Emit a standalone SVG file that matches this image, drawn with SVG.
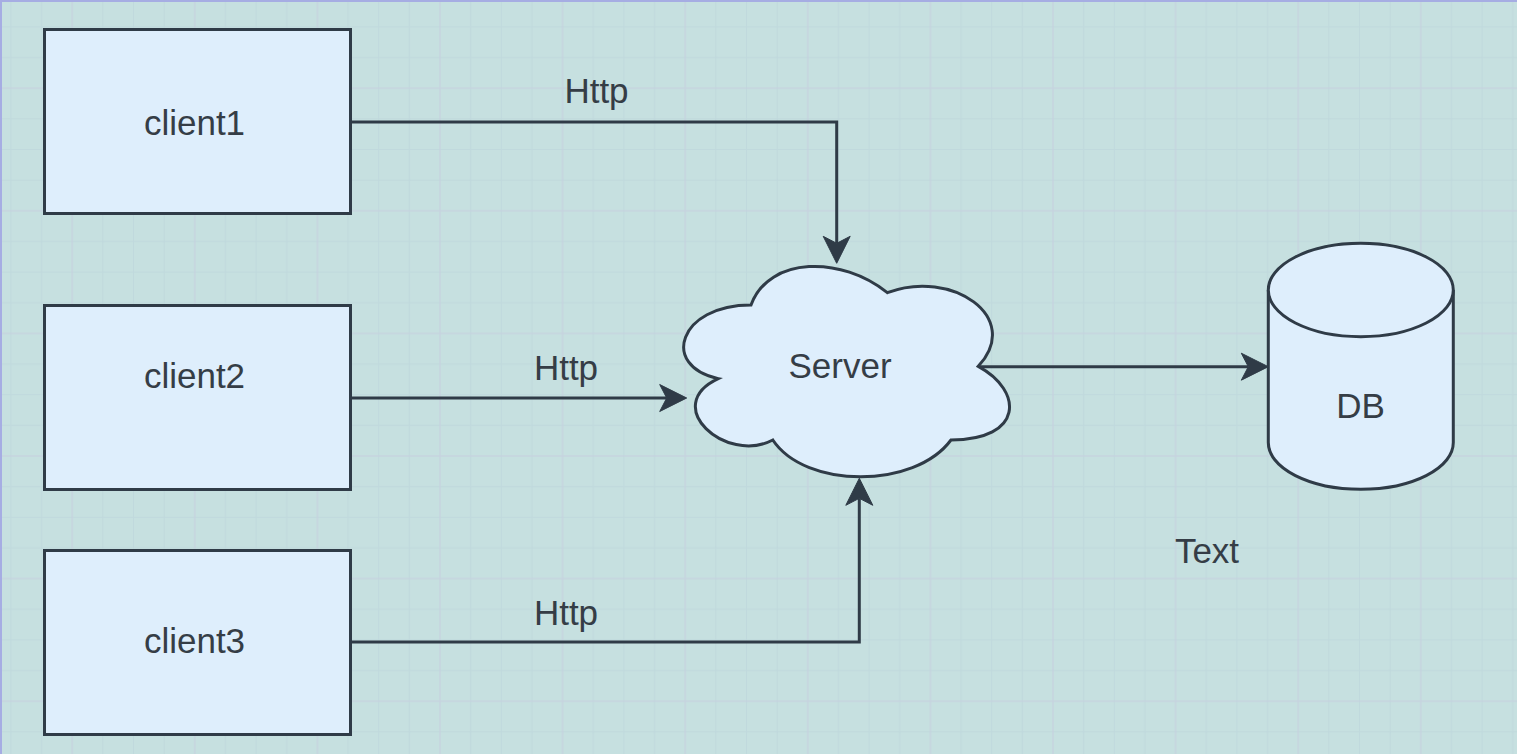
<svg xmlns="http://www.w3.org/2000/svg" width="1517" height="754" viewBox="0 0 1517 754">
  <style>
    .node { fill: #deeefc; stroke: #2f3b47; stroke-width: 3; }
    .edge { fill: none; stroke: #2f3b47; stroke-width: 3; }
    .lbl { font-family: "Liberation Sans", Arial, sans-serif; font-size: 35px; fill: #353d46; text-anchor: middle; }
  </style>
  <defs>
    <pattern id="grid" patternUnits="userSpaceOnUse" x="72.2" y="88.2" width="122.6" height="122.6">
      <rect width="122.6" height="122.6" fill="#c6e0e0"/>
      <g fill="#c0d9dd">
        <rect x="30.15" y="0" width="1" height="122.6"/>
        <rect x="60.8" y="0" width="1" height="122.6"/>
        <rect x="91.45" y="0" width="1" height="122.6"/>
        <rect x="0" y="30.15" width="122.6" height="1"/>
        <rect x="0" y="60.8" width="122.6" height="1"/>
        <rect x="0" y="91.45" width="122.6" height="1"/>
      </g>
      <g fill="#c6d2df">
        <rect x="-0.6" y="0" width="1.2" height="122.6"/>
        <rect x="0" y="-0.6" width="122.6" height="1.2"/>
        <rect x="122" y="0" width="1.2" height="122.6"/>
        <rect x="0" y="122" width="122.6" height="1.2"/>
      </g>
    </pattern>
    <marker id="arrow" markerUnits="userSpaceOnUse" markerWidth="32" markerHeight="32" viewBox="-2 -16 32 32" refX="7" refY="0" orient="auto" overflow="visible">
      <path d="M27,0 L0,-13.5 L7,0 L0,13.5 Z" fill="#2f3b47" stroke="#2f3b47" stroke-width="1" stroke-linejoin="miter"/>
    </marker>
  </defs>

  <rect x="0" y="0" width="1517" height="754" fill="url(#grid)"/>
  <path d="M1,754 V1 H1517" fill="none" stroke="#a6ade3" stroke-width="2"/>

  <g id="connectors">
    <path class="edge" d="M351,122 H836.7 V243.3" marker-end="url(#arrow)"/>
    <path class="edge" d="M351,398 H666.7" marker-end="url(#arrow)"/>
    <path class="edge" d="M351,642 H859.3 V498.3" marker-end="url(#arrow)"/>
    <path class="edge" d="M978.3,366.7 H1248.3" marker-end="url(#arrow)"/>
    <text class="lbl" x="596.5" y="103">Http</text>
    <text class="lbl" x="566" y="380">Http</text>
    <text class="lbl" x="566" y="625">Http</text>
  </g>

  <g id="client1">
    <rect class="node" x="44.5" y="29.5" width="306" height="184"/>
    <text class="lbl" x="194.5" y="135">client1</text>
  </g>
  <g id="client2">
    <rect class="node" x="44.5" y="305.5" width="306" height="184"/>
    <text class="lbl" x="194.5" y="388">client2</text>
  </g>
  <g id="client3">
    <rect class="node" x="44.5" y="550.5" width="306" height="184"/>
    <text class="lbl" x="194.5" y="653">client3</text>
  </g>

  <g id="server">
    <path class="node" stroke-width="2.6" transform="translate(660.1,243.6) scale(363.6,245.5)" vector-effect="non-scaling-stroke"
      d="M0.25,0.25 C0.05,0.25 0,0.5 0.16,0.55 C0,0.66 0.18,0.9 0.31,0.8 C0.4,1 0.7,1 0.8,0.8 C1,0.8 1,0.6 0.875,0.5 C1,0.3 0.8,0.1 0.625,0.2 C0.5,0.05 0.3,0.05 0.25,0.25 Z"/>
    <text class="lbl" x="840" y="378.3">Server</text>
  </g>

  <g id="db">
    <path class="node" stroke-width="2.6" d="M1268.3,290 A92.5,46.7 0 0 1 1453.3,290 L1453.3,442.6 A92.5,46.7 0 0 1 1268.3,442.6 Z"/>
    <path class="node" stroke-width="2.6" fill="none" d="M1268.3,290 A92.5,46.7 0 0 0 1453.3,290"/>
    <text class="lbl" x="1360.5" y="418.3">DB</text>
  </g>

  <g id="text">
    <text class="lbl" x="1207" y="563.3">Text</text>
  </g>
</svg>
